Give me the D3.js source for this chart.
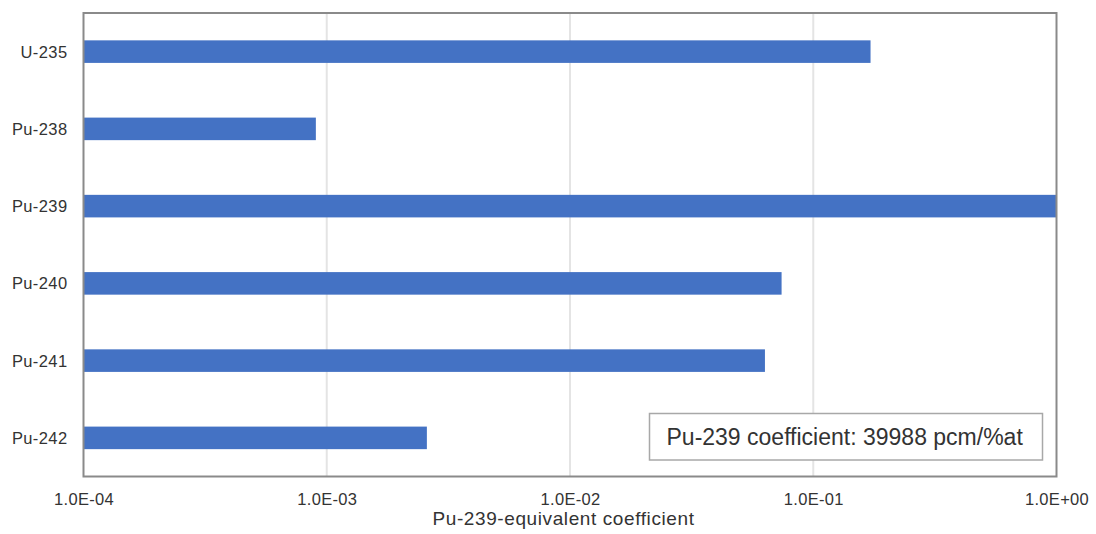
<!DOCTYPE html>
<html>
<head>
<meta charset="utf-8">
<script src="https://cdn.jsdelivr.net/npm/d3@7"></script>
<style>
  html, body { margin: 0; padding: 0; background: #fff; }
  svg { display: block; font-family: "Liberation Sans", Arial, sans-serif; }
</style>
</head>
<body>
<svg id="chart" width="1096" height="534"></svg>
<script>
const categories = ["U-235", "Pu-238", "Pu-239", "Pu-240", "Pu-241", "Pu-242"];
const values = [0.172, 0.000902, 1.0, 0.0741, 0.0633, 0.00258];
const tickValues = [1e-4, 1e-3, 1e-2, 1e-1, 1e0];
const tickLabels = ["1.0E-04", "1.0E-03", "1.0E-02", "1.0E-01", "1.0E+00"];
const xTitle = "Pu-239-equivalent coefficient";
const note = "Pu-239 coefficient: 39988 pcm/%at";

(function () {
const svg = d3.select("#chart");
const pL = 83.5, pR = 1056.5, pT = 13, pB = 476.5;

const x = d3.scaleLog().domain([1e-4, 1]).range([pL, pR]);
const y = d3.scaleBand().domain(categories).range([pT, pB]).paddingInner(0.708).paddingOuter(0.354);

// gridlines
svg.append("g").selectAll("line").data(tickValues.slice(1, -1)).join("line")
  .attr("x1", d => x(d)).attr("x2", d => x(d))
  .attr("y1", pT).attr("y2", pB)
  .attr("stroke", "#e4e4e4").attr("stroke-width", 2);

// bars
svg.append("g").selectAll("rect").data(categories).join("rect")
  .attr("x", pL)
  .attr("y", d => y(d))
  .attr("height", y.bandwidth())
  .attr("width", (d, i) => x(values[i]) - pL)
  .attr("fill", "#4472c4");

// plot border
svg.append("rect")
  .attr("x", pL).attr("y", pT)
  .attr("width", pR - pL).attr("height", pB - pT)
  .attr("fill", "none").attr("stroke", "#8a8a8a").attr("stroke-width", 2);

// x axis
const xAxis = d3.axisBottom(x).tickValues(tickValues)
  .tickFormat((d, i) => tickLabels[i]).tickSize(0).tickPadding(0);
const gx = svg.append("g").attr("transform", `translate(0,${pB})`).call(xAxis);
gx.select(".domain").remove();
gx.selectAll("text")
  .attr("dy", null).attr("y", 28.5)
  .attr("font-size", 16.5).attr("letter-spacing", 0.3).attr("fill", "#333")
  .attr("font-family", "Liberation Sans, Arial, sans-serif");

// y axis
const yAxis = d3.axisLeft(y).tickSize(0).tickPadding(0);
const gy = svg.append("g").attr("transform", `translate(${pL},0)`).call(yAxis);
gy.select(".domain").remove();
gy.selectAll("text")
  .attr("x", -16).attr("dy", "0.36em")
  .attr("font-size", 16.5).attr("letter-spacing", 0.4).attr("fill", "#333")
  .attr("font-family", "Liberation Sans, Arial, sans-serif");

// x title
svg.append("text")
  .attr("x", 563.5).attr("y", 525)
  .attr("text-anchor", "middle")
  .attr("font-size", 19).attr("letter-spacing", 0.6).attr("fill", "#333")
  .text(xTitle);

// note box
svg.append("rect")
  .attr("x", 649.5).attr("y", 413.5)
  .attr("width", 393).attr("height", 46.5)
  .attr("fill", "#fff").attr("stroke", "#a8a8a8").attr("stroke-width", 1.5);
svg.append("text")
  .attr("x", 666.5).attr("y", 445)
  .attr("font-size", 23).attr("fill", "#333")
  .text(note);
})();
</script>
</body>
</html>
